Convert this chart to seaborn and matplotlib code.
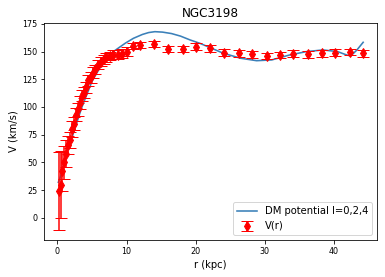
import matplotlib
matplotlib.use("Agg")
import matplotlib.pyplot as plt
import seaborn as sns
import pandas as pd

# Observed rotation curve
r_obs = [0.25, 0.5, 0.75, 1.0, 1.25, 1.5, 1.8, 2.1, 2.4, 2.7, 3.0, 3.3, 3.6,
         3.9, 4.2, 4.5, 4.8, 5.1, 5.5, 5.9, 6.3, 6.7, 7.1, 7.6, 8.1, 8.7, 9.3,
         10.0, 11.0, 12.0, 14.0, 16.0, 18.1, 20.0, 22.1, 24.1, 26.2, 28.2, 30.3,
         32.2, 34.1, 36.3, 38.3, 40.1, 42.3, 44.2]
v_obs = [24, 30, 42, 50, 58, 66, 70, 80, 85, 93, 98, 104, 110,
         113, 118, 124, 127, 131, 134, 138, 141, 143, 145, 146, 147, 147, 148,
         150, 155, 156, 157, 152.5, 152.5, 154.5, 153, 149, 148.5, 147.5, 146,
         147, 148, 147.5, 148.5, 149, 149.5, 148.5]
v_err = [35, 30, 18, 15, 12, 8, 7, 7, 6, 6, 6, 6, 5,
         5, 5, 5, 5, 5, 4, 4, 4, 4, 4, 4, 4, 4, 4,
         4, 3, 3, 3, 3, 3, 3, 3, 3, 3, 3, 3,
         3, 3, 3, 3, 3, 3, 3]

# DM potential model curve
r_mod = [0.15, 0.5, 1.0, 1.4, 2.1, 3.5, 5.0, 6.4, 8.1, 9.8, 11.0, 12.3, 13.2,
         14.1, 15.2, 16.5, 17.8, 19.2, 20.6, 22.3, 24.0, 26.5, 28.8, 31.0, 33.6,
         36.0, 38.4, 40.5, 41.8, 42.4, 43.3, 44.2]
v_mod = [32, 38, 50, 60, 72, 99, 123, 138, 150, 157.5, 162, 165.5, 167.2,
         168, 167.6, 166.3, 164, 160.5, 157.5, 153, 148.5, 144, 141.8, 142.5, 147,
         150, 151.5, 150, 147, 146, 151.5, 158.4]

W, H = 385, 277
fig = plt.figure(figsize=(W / 72, H / 72), dpi=72)
ax = fig.add_axes([44.3 / W, 37 / H, (377 - 44.3) / W, (240 - 22.7) / H])

df_mod = pd.DataFrame({"r": r_mod, "v": v_mod})
sns.lineplot(data=df_mod, x="r", y="v", ax=ax, color="#3b80b9", linewidth=1.6,
             label="DM potential l=0,2,4", sort=True)

ax.errorbar(r_obs, v_obs, yerr=v_err, fmt="d", color="red", markersize=7,
            capsize=6, elinewidth=1.5, label="V(r)")

ax.set_xlim(-1.88, 46.2)
ax.set_ylim(-20.1, 176.1)
ax.set_xticks([0, 10, 20, 30, 40])
ax.set_yticks([0, 25, 50, 75, 100, 125, 150, 175])
ax.tick_params(labelsize=8)
ax.set_title("NGC3198", fontsize=12)
ax.set_xlabel("r (kpc)", fontsize=10)
ax.set_ylabel("V (km/s)", fontsize=10)
ax.legend(loc="lower right", fontsize=10)

fig.savefig("out.png", dpi=72)
